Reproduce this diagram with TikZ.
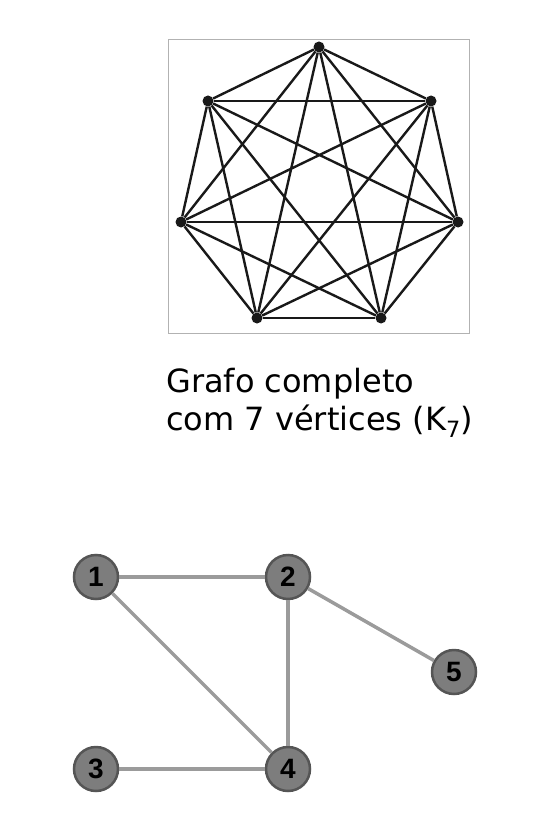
\documentclass[tikz,border=0pt]{standalone}
\usepackage{fontspec}
\setmainfont{DejaVu Sans}
\newfontfamily\labelfont{Liberation Sans}
\usetikzlibrary{positioning}
\definecolor{edgegray}{RGB}{155,155,155}
\definecolor{nodegray}{RGB}{125,125,125}
\definecolor{rimgray}{RGB}{85,85,85}
\definecolor{k7black}{RGB}{25,25,25}
\begin{document}
\begin{tikzpicture}[x=1pt, y=-1pt,
                    dot/.style={circle, fill=k7black, inner sep=0pt,
                                minimum size=11pt},
                    ball/.style={circle, fill=nodegray, draw=rimgray,
                                 line width=2.5pt, minimum size=44pt,
                                 inner sep=0pt,
                                 font=\labelfont\bfseries\fontsize{28}{28}\selectfont},
                    kedge/.style={draw=k7black, line width=2.4pt},
                    gedge/.style={draw=edgegray, line width=3.5pt}]
    \useasboundingbox (0,0) rectangle (556,821);

    % frame of the complete graph
    \draw[gray!60, line width=0.8pt] (168,39) rectangle (469,333);

    % vertices of K7
    \node[dot] (v1) at (319,47) {};
    \node[dot] (v2) at (431,101) {};
    \node[dot] (v3) at (458,222) {};
    \node[dot] (v4) at (381,318) {};
    \node[dot] (v5) at (257,318) {};
    \node[dot] (v6) at (181,222) {};
    \node[dot] (v7) at (208,101) {};

    % all edges of K7
    \path
        (v1) edge [kedge] (v2)
        (v1) edge [kedge] (v3)
        (v1) edge [kedge] (v4)
        (v1) edge [kedge] (v5)
        (v1) edge [kedge] (v6)
        (v1) edge [kedge] (v7)
        (v2) edge [kedge] (v3)
        (v2) edge [kedge] (v4)
        (v2) edge [kedge] (v5)
        (v2) edge [kedge] (v6)
        (v2) edge [kedge] (v7)
        (v3) edge [kedge] (v4)
        (v3) edge [kedge] (v5)
        (v3) edge [kedge] (v6)
        (v3) edge [kedge] (v7)
        (v4) edge [kedge] (v5)
        (v4) edge [kedge] (v6)
        (v4) edge [kedge] (v7)
        (v5) edge [kedge] (v6)
        (v5) edge [kedge] (v7)
        (v6) edge [kedge] (v7)
        ;

    % caption
    \node[anchor=base west, align=left, inner sep=0pt,
          font=\fontsize{32}{38}\selectfont] (caption) at (166,430)
        {Grafo completo\\com 7 vértices (K\textsubscript{7})};

    % small graph
    \node[ball] (n1) at (96,577) {1};
    \node[ball] (n2) at (288,577) {2};
    \node[ball] (n5) at (454,672) {5};
    \node[ball] (n3) at (96,769) {3};
    \node[ball] (n4) at (288,769) {4};

    \path
        (n1) edge [gedge] (n2)
        (n1) edge [gedge] (n4)
        (n2) edge [gedge] (n4)
        (n2) edge [gedge] (n5)
        (n3) edge [gedge] (n4)
        ;
\end{tikzpicture}
\end{document}
